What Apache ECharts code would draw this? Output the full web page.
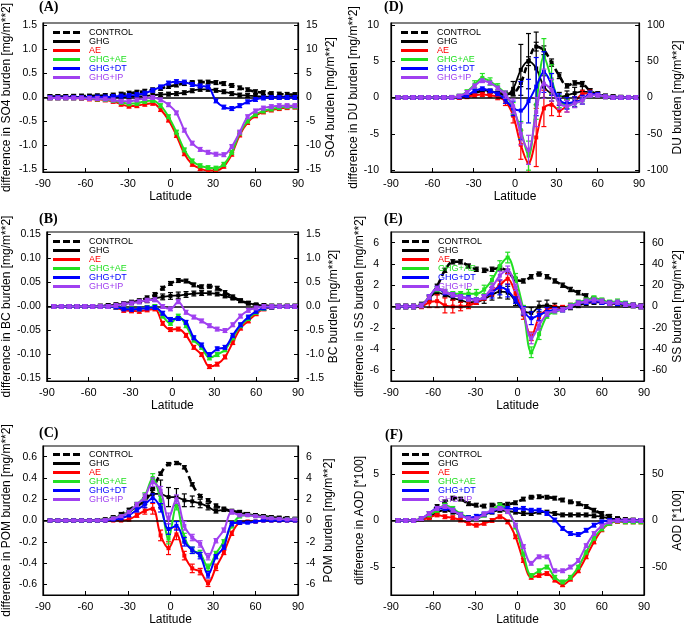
<!DOCTYPE html>
<html>
<head>
<meta charset="utf-8">
<script src="https://cdn.jsdelivr.net/npm/echarts@6/dist/echarts.min.js"></script>
<style>html,body{margin:0;padding:0;background:#fff}#chart{width:685px;height:627px}</style>
</head>
<body>
<div id="chart"></div>
<script>
// latitude of each zonal band (every other T42 row)
var lats = [-85.10,-79.53,-73.95,-68.37,-62.79,-57.21,-51.63,-46.04,-40.46,-34.88,
  -29.30,-23.72,-18.14,-12.56,-6.98,-1.40,4.19,9.77,15.35,20.93,
  26.51,32.09,37.67,43.25,48.84,54.42,60.00,65.58,71.16,76.74,82.31,87.86];

var names = ['CONTROL','GHG','AE','GHG+AE','GHG+DT','GHG+IP'];
var colors = ['#000000','#000000','#ff0000','#22e022','#0000ff','#a040f0'];

// (A) SO4  -- CONTROL is on the right axis
var so4Control = [0.2,0.2,0.2,0.25,0.3,0.3,0.35,0.4,0.5,0.7, 0.9,1.1,1.3,1.6,1.9,2.3,2.6,2.9,3.1,3.2, 3.2,3.1,2.9,2.5,2.0,1.6,1.2,1.0,0.8,0.7, 0.65,0.6];
var so4Ghg = [0.01,0.01,0.01,0.01,0.01,0.01,0.01,0.01,0.01,0.01, 0.015,0.02,0.03,0.05,0.06,0.07,0.08,0.1,0.14,0.17, 0.17,0.15,0.12,0.08,0.05,0.04,0.03,0.02,0.01,0.01, 0.01,0.01];
var so4Ae = [-0.01,-0.01,-0.01,-0.01,-0.02,-0.03,-0.04,-0.05,-0.08,-0.14, -0.18,-0.17,-0.14,-0.12,-0.25,-0.47,-0.79,-1.17,-1.39,-1.48, -1.52,-1.52,-1.43,-1.18,-0.78,-0.52,-0.38,-0.3,-0.26,-0.23, -0.21,-0.2];
var so4GhgAe = [-0.01,-0.01,-0.01,-0.01,-0.01,-0.02,-0.03,-0.04,-0.06,-0.1, -0.13,-0.12,-0.08,-0.06,-0.17,-0.4,-0.72,-1.09,-1.32,-1.42, -1.46,-1.47,-1.39,-1.14,-0.74,-0.49,-0.35,-0.28,-0.24,-0.21, -0.19,-0.19];
var so4GhgDt = [0,0,0,0,0,0,0.01,0.01,0.02,0.03, 0.04,0.06,0.09,0.15,0.22,0.3,0.33,0.32,0.27,0.24, 0.22,-0.07,-0.2,-0.23,-0.17,-0.09,-0.04,-0.01,0,0, 0,0];
var so4GhgIp = [-0.01,-0.01,-0.01,-0.01,-0.01,-0.02,-0.02,-0.03,-0.05,-0.08, -0.08,-0.05,-0.02,0,-0.05,-0.15,-0.32,-0.68,-0.95,-1.08, -1.14,-1.18,-1.19,-1.02,-0.72,-0.4,-0.28,-0.22,-0.19,-0.17, -0.17,-0.17];
var so4Ticks = [-1.5,-1,-0.5,0,0.5,1,1.5];
var so4TicksR = [-15,-10,-5,0,5,10,15];

// (B) BC
var bcControl = [0,0,0,0,0,0,0.01,0.02,0.03,0.06, 0.09,0.12,0.18,0.25,0.38,0.48,0.54,0.53,0.45,0.41, 0.42,0.38,0.29,0.2,0.12,0.07,0.03,0.02,0.01,0.01, 0.01,0.01];
var bcGhg = [0,0,0,0,0,0,0,0.002,0.004,0.006, 0.008,0.01,0.013,0.017,0.02,0.022,0.023,0.025,0.027,0.028, 0.028,0.026,0.022,0.017,0.012,0.007,0.004,0.002,0.001,0, 0,0];
var bcGhgErr = [0.002,0.002,0.002,0.002,0.002,0.002,0.002,0.002,0.003,0.003, 0.004,0.004,0.005,0.006,0.006,0.007,0.007,0.006,0.005,0.005, 0.004,0.004,0.004,0.003,0.003,0.003,0.002,0.002,0.002,0.002, 0.002,0.002];
var bcAe = [0,0,0,0,0,0,0,0,-0.002,-0.008, -0.009,-0.01,-0.007,-0.005,-0.035,-0.048,-0.047,-0.06,-0.085,-0.1, -0.125,-0.12,-0.105,-0.075,-0.045,-0.03,-0.015,-0.005,-0.002,0, 0,0];
var bcGhgAe = [0,0,0,0,0,0,0,0,-0.001,-0.004, -0.005,-0.005,-0.002,0,-0.02,-0.035,-0.02,-0.04,-0.07,-0.085, -0.107,-0.1,-0.09,-0.065,-0.04,-0.025,-0.012,-0.004,-0.001,0, 0,0];
var bcGhgDt = [0,0,0,0,0,0,0,0,-0.001,-0.005, -0.006,-0.005,-0.003,-0.002,-0.014,-0.027,-0.025,-0.033,-0.065,-0.08, -0.1,-0.088,-0.085,-0.06,-0.038,-0.022,-0.01,-0.003,-0.001,0, 0,0];
var bcGhgIp = [0,0,0,0,0,0,0,0,0.002,0.005, 0.007,0.01,0.013,0.014,0,-0.005,0.01,-0.012,-0.022,-0.03, -0.04,-0.047,-0.05,-0.038,-0.02,-0.008,-0.003,0,0,0, 0,0];
var bcTicks = [-0.15,-0.1,-0.05,0,0.05,0.1,0.15];
var bcTicksR = [-1.5,-1,-0.5,0,0.5,1,1.5];

// (C) POM
var pomControl = [0,0,0,0,0,0,0.02,0.1,0.3,0.6, 1.0,1.5,2.0,3.0,4.4,5.3,5.4,5.0,3.4,2.3, 1.9,1.4,1.1,0.9,0.8,0.6,0.5,0.4,0.3,0.25, 0.2,0.15];
var pomGhg = [0,0,0,0,0,0,0,0.005,0.02,0.05, 0.08,0.13,0.18,0.25,0.25,0.22,0.22,0.19,0.18,0.16, 0.13,0.09,0.1,0.08,0.07,0.06,0.05,0.04,0.03,0.02, 0.015,0.01];
var pomGhgErr = [0.01,0.01,0.01,0.01,0.01,0.01,0.01,0.01,0.01,0.01, 0.015,0.02,0.03,0.05,0.13,0.09,0.08,0.06,0.05,0.04, 0.03,0.02,0.015,0.015,0.01,0.01,0.01,0.01,0.01,0.01, 0.01,0.01];
var pomAe = [0,0,0,0,0,0,0,0,0,0, 0.01,0.05,0.09,0.11,-0.14,-0.26,-0.13,-0.33,-0.45,-0.48, -0.59,-0.44,-0.3,-0.12,-0.02,-0.01,-0.01,0,0,0, 0,0];
var pomAeErr = [0.01,0.01,0.01,0.01,0.01,0.01,0.01,0.01,0.01,0.01, 0.015,0.02,0.03,0.05,0.05,0.06,0.05,0.04,0.04,0.03, 0.03,0.03,0.02,0.02,0.015,0.01,0.01,0.01,0.01,0.01, 0.01,0.01];
var pomGhgAe = [0,0,0,0,0,0,0,0.005,0.02,0.04, 0.08,0.15,0.23,0.4,0.19,-0.17,0.14,-0.16,-0.28,-0.31, -0.44,-0.31,-0.2,-0.05,0.04,0.05,0.04,0.03,0.02,0.01, 0.01,0.01];
var pomGhgDt = [0,0,0,0,0,0,0,0,0.01,0.02, 0.05,0.1,0.15,0.21,0.12,-0.08,-0.05,-0.2,-0.28,-0.33, -0.51,-0.34,-0.25,-0.03,-0.02,-0.02,-0.01,0,0,0, 0,0];
var pomGhgIp = [0,0,0,0,0,0,0,0.005,0.02,0.04, 0.08,0.15,0.22,0.36,0.28,0.02,0.2,-0.05,-0.16,-0.22, -0.34,-0.19,-0.09,0.08,0.05,0.05,0.04,0.03,0.02,0.015, 0.01,0.01];
var pomMixErr = [0.01,0.01,0.01,0.01,0.01,0.01,0.01,0.01,0.01,0.01, 0.015,0.02,0.03,0.04,0.04,0.05,0.04,0.04,0.03,0.03, 0.03,0.02,0.02,0.02,0.015,0.01,0.01,0.01,0.01,0.01, 0.01,0.01];
var pomTicks = [-0.6,-0.4,-0.2,0,0.2,0.4,0.6];
var pomTicksR = [-6,-4,-2,0,2,4,6];

// (D) DU
var duControl = [0,0,0,0,0,0,0,0.2,1,3, 6,9,8,6,5,6,20,50,70,65, 48,30,16,20,19,9,4.5,2,1,0.5, 0.2,0.1];
var duControlErr = [2.5,2.5,2.5,2.5,2.5,2.5,2.5,2.5,2.5,2.5, 2.5,2.5,2.5,2.5,2.5,3,5,6,6,6, 5,4,3,3,3,3,2.5,2.5,2.5,2.5, 2.5,2.5];
var duGhg = [0,0,0,0,0,0,0,0,0.1,0.3, 0.5,1.0,0.9,0.6,0.3,1.2,3.8,5.0,4.0,1.5, 0.5,0.1,0.3,0.6,0.8,0.7,0.4,0.2,0.1,0, 0,0];
var duGhgErr = [0.25,0.25,0.25,0.25,0.25,0.25,0.25,0.25,0.25,0.25, 0.25,0.25,0.25,0.25,0.5,1.0,3.5,3.8,5.0,1.5, 1.0,0.6,0.6,0.8,0.7,0.5,0.4,0.25,0.25,0.25, 0.25,0.25];
var duAe = [0,0,0,0,0,0,0,0,0,0.1, 0.3,0.4,0.3,0.1,-0.5,-2.5,-6.5,-9.0,-5.5,-1.5, -1.0,-1.8,-1.2,-0.6,0.5,0.6,0.3,0.1,0,0, 0,0];
var duAeErr = [0.25,0.25,0.25,0.25,0.25,0.25,0.25,0.25,0.25,0.25, 0.25,0.25,0.25,0.4,0.6,1.0,2.0,1.5,4.0,2.5, 1.5,0.8,0.8,0.7,0.5,0.4,0.3,0.25,0.25,0.25, 0.25,0.25];
var duGhgAe = [0,0,0,0,0,0,0,0,0.2,0.8, 1.8,2.7,2.2,1.5,0.5,-1.5,-4.5,-8.0,-1.0,5.6, 2.5,-0.6,-0.9,-0.8,-0.4,0.4,0.3,0.1,0,0, 0,0];
var duGhgAeErr = [0.25,0.25,0.25,0.25,0.25,0.25,0.25,0.25,0.25,0.25, 0.5,0.6,0.5,0.4,0.4,0.8,1.2,2.0,2.0,2.5, 2.0,0.8,0.6,0.5,0.5,0.4,0.25,0.25,0.25,0.25, 0.25,0.25];
var duGhgDt = [0,0,0,0,0,0,0,0,0.1,0.3, 0.9,1.2,0.9,0.5,-0.3,-1.5,-1.8,-0.5,1.5,3.5, 1.8,-0.3,-0.8,-0.6,-0.3,0.5,0.4,0.1,0,0, 0,0];
var duGhgDtErr = [0.25,0.25,0.25,0.25,0.25,0.25,0.25,0.25,0.25,0.25, 0.25,0.25,0.25,0.25,0.5,1.0,4.0,3.0,4.0,2.8, 1.5,0.8,0.8,0.7,0.6,0.4,0.25,0.25,0.25,0.25, 0.25,0.25];
var duGhgIp = [0,0,0,0,0,0,0,0,0.2,0.7, 1.6,2.3,2.0,1.3,0.4,-1.2,-5.0,-7.2,-2.0,1.9, 1.0,-0.8,-1.2,-0.8,-0.4,0.3,0.3,0.1,0,0, 0,0];
var duGhgIpErr = [0.25,0.25,0.25,0.25,0.25,0.25,0.25,0.25,0.25,0.25, 0.25,0.25,0.25,0.25,0.5,1.0,1.5,2.0,2.0,2.0, 1.5,0.8,0.8,0.6,0.5,0.25,0.25,0.25,0.25,0.25, 0.25,0.25];
var duTicks = [-10,-5,0,5,10];
var duTicksR = [-100,-50,0,50,100];

// (E) SS
var ssControl = [0,0,0,1,8,19,34,42,42,38, 35,34,35,36,33,25,24,28,30.5,28, 24,20,16,13,10,7,5,3.5,2.5,1.5, 1,0.5];
var ssGhg = [0,0,0,0.2,0.8,1.3,1.1,0.8,0.6,0.4, 0.4,0.7,1.1,1.4,1.3,0.5,-0.4,-0.6,0,0.1, 0,-0.2,-0.1,0.1,0.3,0.4,0.4,0.3,0.3,0.2, 0.1,0];
var ssGhgErr = [0.2,0.2,0.2,0.2,0.2,0.2,0.2,0.2,0.2,0.2, 0.2,0.4,0.5,0.6,0.6,0.4,0.4,0.5,0.5,0.5, 0.3,0.2,0.2,0.2,0.2,0.2,0.2,0.2,0.2,0.2, 0.2,0.2];
var ssAe = [0,0,0,0,0.4,0.5,0.1,0,0,0.1, 0.4,0.8,1.4,2.0,2.6,1.2,-0.8,-2.8,-1.0,-0.3, -0.1,-0.1,0.1,0.3,0.5,0.5,0.5,0.3,0.3,0.2, 0.1,0];
var ssAeErr = [0.2,0.2,0.2,0.2,0.5,0.6,0.7,0.6,0.4,0.3, 0.2,0.2,0.4,0.4,0.5,0.4,0.4,0.4,0.4,0.2, 0.2,0.2,0.2,0.2,0.2,0.2,0.2,0.2,0.2,0.2, 0.2,0.2];
var ssGhgAe = [0,0,0,0.1,0.9,1.6,1.4,1.2,1.2,1.2, 1.2,1.6,2.5,3.8,4.6,2.7,-0.3,-4.3,-2.6,-0.9, -0.5,-0.3,0.1,0.4,0.6,0.8,0.6,0.4,0.5,0.3, 0.1,0];
var ssGhgAeErr = [0.2,0.2,0.2,0.2,0.2,0.2,0.2,0.2,0.2,0.4, 0.4,0.4,0.4,0.5,0.5,0.4,0.4,0.5,0.5,0.2, 0.2,0.2,0.2,0.2,0.2,0.2,0.2,0.2,0.2,0.2, 0.2,0.2];
var ssGhgDt = [0,0,0,0.1,0.9,1.7,1.3,1.1,0.9,0.8, 0.6,0.9,1.3,1.8,1.5,0.6,-0.4,-1.1,-0.8,-0.5, -0.3,-0.3,0,0.3,0.4,0.5,0.4,0.3,0.3,0.2, 0.1,0];
var ssGhgDtErr = [0.2,0.2,0.2,0.2,0.2,0.2,0.2,0.2,0.2,0.2, 0.2,0.2,0.5,0.7,0.6,0.3,0.4,0.6,0.5,0.4, 0.2,0.2,0.2,0.2,0.2,0.2,0.2,0.2,0.2,0.2, 0.2,0.2];
var ssGhgIp = [0,0,0,0.1,0.9,1.7,1.4,1.1,0.9,0.7, 0.6,0.9,1.8,2.9,3.4,1.8,-0.4,-3.0,-1.8,-0.7, -0.4,-0.3,0,0.3,0.5,0.6,0.5,0.3,0.4,0.2, 0.1,0];
var ssGhgIpErr = [0.2,0.2,0.2,0.2,0.2,0.2,0.2,0.2,0.2,0.2, 0.2,0.2,0.4,0.4,0.4,0.3,0.3,0.5,0.4,0.2, 0.2,0.2,0.2,0.2,0.2,0.2,0.2,0.2,0.2,0.2, 0.2,0.2];
var ssTicks = [-6,-4,-2,0,2,4,6];
var ssTicksR = [-60,-40,-20,0,20,40,60];

// (F) AOD
var aodControl = [0,0,0,2,7.5,15,20,24,23,18, 16.5,15.5,16.5,17,17.5,19,23,25,25.5,25, 24,22,20,18,15,11,7.5,4.5,2,1, 0.5,0];
var aodGhg = [0,0,0,0.1,0.4,0.9,1.1,0.9,0.6,0.3, 0.2,0.6,0.9,1.1,1.0,0.9,0.75,0.75,0.9,0.9, 0.75,0.6,0.6,0.6,0.6,0.5,0.4,0.2,0.15,0.05, 0,0];
var aodAe = [0,0,0,0.1,0.3,0.6,0.4,0.3,0.05,-0.3, -0.5,-0.3,0,0.4,-0.15,-1.75,-4.3,-6.1,-5.9,-5.7, -6.4,-6.9,-6.3,-5.4,-3.9,-2.3,-1.0,-0.3,-0.1,-0.15, -0.15,-0.15];
var aodGhgAe = [0,0,0,0.2,0.6,1.1,1.65,1.3,0.7,0.3, 0.2,0.6,1.1,1.65,1.1,-0.7,-3.6,-5.9,-5.4,-5.0, -6.1,-6.6,-6.1,-5.0,-3.4,-1.9,-0.9,-0.3,-0.05,-0.15, -0.15,-0.15];
var aodGhgDt = [0,0,0,0.2,0.75,1.3,1.3,1.1,0.6,0.3, 0.45,0.7,0.95,1.3,1.3,1.2,1.3,1.1,1.1,0.75, 0.05,-0.85,-1.4,-1.5,-1.05,-0.5,-0.15,0,0,0, 0,0];
var aodGhgIp = [0,0,0,0.2,0.75,1.3,1.5,1.1,0.6,0.2, 0.2,0.7,1.1,1.3,0.95,-0.5,-2.8,-4.6,-3.9,-3.9, -5.4,-5.4,-5.0,-4.3,-2.7,-1.4,-0.6,-0.15,0,0, 0,0];
var aodTicks = [-5,0,5];
var aodTicksR = [-50,0,50];

var panels = [
  {letter:'(A)', col:0, row:0, lim:1.55, dec:1, decR:0, ticks:so4Ticks, ticksR:so4TicksR,
   name:'difference in SO4 burden [mg/m**2]', nameR:'SO4 burden [mg/m**2]', errDef:0.04,
   data:[so4Control,so4Ghg,so4Ae,so4GhgAe,so4GhgDt,so4GhgIp], errs:[]},
  {letter:'(B)', col:0, row:1, lim:0.155, dec:2, decR:1, zero:'-0.00', ticks:bcTicks, ticksR:bcTicksR,
   name:'difference in BC burden [mg/m**2]', nameR:'BC burden [mg/m**2]', errDef:0.004,
   data:[bcControl,bcGhg,bcAe,bcGhgAe,bcGhgDt,bcGhgIp], errs:[null,bcGhgErr]},
  {letter:'(C)', col:0, row:2, lim:0.7, dec:1, decR:0, ticks:pomTicks, ticksR:pomTicksR,
   name:'difference in POM burden [mg/m**2]', nameR:'POM burden [mg/m**2]', errDef:0.015,
   data:[pomControl,pomGhg,pomAe,pomGhgAe,pomGhgDt,pomGhgIp], errs:[null,pomGhgErr,pomAeErr,pomMixErr,pomMixErr,pomMixErr]},
  {letter:'(D)', col:1, row:0, lim:10.25, dec:0, decR:0, ticks:duTicks, ticksR:duTicksR,
   name:'difference in DU burden [mg/m**2]', nameR:'DU burden [mg/m**2]', errDef:0.25,
   data:[duControl,duGhg,duAe,duGhgAe,duGhgDt,duGhgIp], errs:[duControlErr,duGhgErr,duAeErr,duGhgAeErr,duGhgDtErr,duGhgIpErr]},
  {letter:'(E)', col:1, row:1, lim:7, dec:0, decR:0, ticks:ssTicks, ticksR:ssTicksR,
   name:'difference in SS burden [mg/m**2]', nameR:'SS burden [mg/m**2]', errDef:0.2,
   data:[ssControl,ssGhg,ssAe,ssGhgAe,ssGhgDt,ssGhgIp], errs:[null,ssGhgErr,ssAeErr,ssGhgAeErr,ssGhgDtErr,ssGhgIpErr]},
  {letter:'(F)', col:1, row:2, lim:8, dec:0, decR:0, ticks:aodTicks, ticksR:aodTicksR,
   name:'difference in AOD [*100]', nameR:'AOD [*100]', errDef:0.2,
   data:[aodControl,aodGhg,aodAe,aodGhgAe,aodGhgDt,aodGhgIp], errs:[]}
];

var FONT = 'Liberation Sans';
var colLeft = [43, 391];
var rowTop = [23, 232, 446];
var letterPos = [[[39,0],[39,212],[39,426]], [[384,0],[384,212],[385,428]]];
var legendPos = [[[53,28],[53,237],[53,450]], [[401,28],[402,237],[402,450]]];
var nameGapL = [30, 20], nameGapR = [25, 28];
var marginL = [6, 12];
var lineW = [2.6, 1.8, 2, 2, 2, 2];
var solidIcon = 'path://M0,0H27V3H0Z M31,0V3Z';
var dashIcon = 'path://M0,0H7V3H0Z M10,0H17V3H10Z M20,0H27V3H20Z M31,0V3Z';

function fmt(dec, zeroText) {
  return function (v) {
    if (zeroText && Math.abs(v) < 1e-9) return zeroText;
    return v.toFixed(dec);
  };
}

function renderErr(params, api) {
  var x = api.value(0), y = api.value(1), e = api.value(2);
  var c = api.coord([x, y]);
  var hi = api.coord([x, y + e])[1];
  var lo = api.coord([x, y - e])[1];
  var col = api.visual('color');
  return {type:'group', children:[
    {type:'line', shape:{x1:c[0], y1:hi, x2:c[0], y2:lo}, style:{stroke:col, lineWidth:1.2}},
    {type:'line', shape:{x1:c[0]-2.5, y1:hi, x2:c[0]+2.5, y2:hi}, style:{stroke:col, lineWidth:1.2}},
    {type:'line', shape:{x1:c[0]-2.5, y1:lo, x2:c[0]+2.5, y2:lo}, style:{stroke:col, lineWidth:1.2}},
    {type:'rect', shape:{x:c[0]-2, y:c[1]-2, width:4, height:4}, style:{fill:col}}
  ]};
}

var option = {animation:false, textStyle:{fontFamily:FONT},
  title:[], legend:[], grid:[], xAxis:[], yAxis:[], series:[]};

panels.forEach(function (p, i) {
  option.grid.push({left:colLeft[p.col], top:rowTop[p.row], width:255, height:149,
    show:true, borderColor:'#000', borderWidth:1.2, backgroundColor:'rgba(0,0,0,0)'});
  option.title.push({text:p.letter, left:letterPos[p.col][p.row][0], top:letterPos[p.col][p.row][1], padding:0,
    textStyle:{fontFamily:'Liberation Serif', fontWeight:'bold', fontSize:14, color:'#000'}});
  option.xAxis.push({type:'value', gridIndex:i, min:-90, max:90, interval:30,
    axisLine:{onZero:false, lineStyle:{color:'#000', width:1.2}},
    axisTick:{inside:true, length:4, lineStyle:{color:'#000'}},
    axisLabel:{color:'#000', fontSize:11, margin:6},
    splitLine:{show:false},
    name:'Latitude', nameLocation:'middle', nameGap:19, nameTextStyle:{color:'#000', fontSize:12}});
  option.yAxis.push({type:'value', gridIndex:i, position:'left', min:-p.lim, max:p.lim,
    axisLine:{show:true, onZero:false, lineStyle:{color:'#000', width:1.2}},
    axisTick:{show:true, inside:true, length:4, customValues:p.ticks, lineStyle:{color:'#000'}},
    axisLabel:{color:'#000', fontSize:10.5, margin:marginL[p.col], customValues:p.ticks, formatter:fmt(p.dec, p.zero)},
    splitLine:{show:false},
    name:p.name, nameLocation:'middle', nameRotate:90, nameGap:nameGapL[p.col], nameTextStyle:{color:'#000', fontSize:12}});
  option.yAxis.push({type:'value', gridIndex:i, position:'right', min:-p.lim*10, max:p.lim*10,
    axisLine:{show:true, onZero:false, lineStyle:{color:'#000', width:1.2}},
    axisTick:{show:true, inside:true, length:4, customValues:p.ticksR, lineStyle:{color:'#000'}},
    axisLabel:{color:'#000', fontSize:10.5, margin:8, customValues:p.ticksR, formatter:fmt(p.decR)},
    splitLine:{show:false},
    name:p.nameR, nameLocation:'middle', nameRotate:90, nameGap:nameGapR[p.col], nameTextStyle:{color:'#000', fontSize:12}});
  option.legend.push({left:legendPos[p.col][p.row][0], top:legendPos[p.col][p.row][1], orient:'vertical',
    padding:0, itemWidth:31, itemHeight:3, itemGap:0, selectedMode:false,
    itemStyle:{borderWidth:0},
    textStyle:{fontSize:9, lineHeight:8, fontFamily:FONT},
    data:names.map(function (n, k) {
      return {name:n, icon:k === 0 ? dashIcon : solidIcon,
        itemStyle:{color:colors[k], borderWidth:0},
        textStyle:{color:k < 2 ? '#000' : colors[k]}};
    })});

  p.data.forEach(function (arr, k) {
    var yi = k === 0 ? 2 * i + 1 : 2 * i;
    var err = p.errs[k];
    var def = k === 0 ? p.errDef * 10 : p.errDef;
    var line = {type:'line', name:names[k], xAxisIndex:i, yAxisIndex:yi,
      data:lats.map(function (la, j) { return [la, arr[j]]; }),
      smooth:0.35, symbol:'none', color:colors[k],
      lineStyle:{color:colors[k], width:lineW[k], type:k === 0 ? [6, 4] : 'solid'},
      z:2 + k, silent:true};
    if (k === 1) {
      line.markLine = {silent:true, symbol:'none', label:{show:false},
        lineStyle:{color:'#000', width:1.5, type:'solid'}, data:[{yAxis:0}]};
    }
    option.series.push(line);
    option.series.push({type:'custom', xAxisIndex:i, yAxisIndex:yi, renderItem:renderErr,
      data:lats.map(function (la, j) { return [la, arr[j], err ? err[j] : def]; }),
      encode:{x:0, y:1}, itemStyle:{color:colors[k]}, z:2 + k, silent:true, clip:true});
  });
});

var chart = echarts.init(document.getElementById('chart'));
chart.setOption(option);
</script>
</body>
</html>
